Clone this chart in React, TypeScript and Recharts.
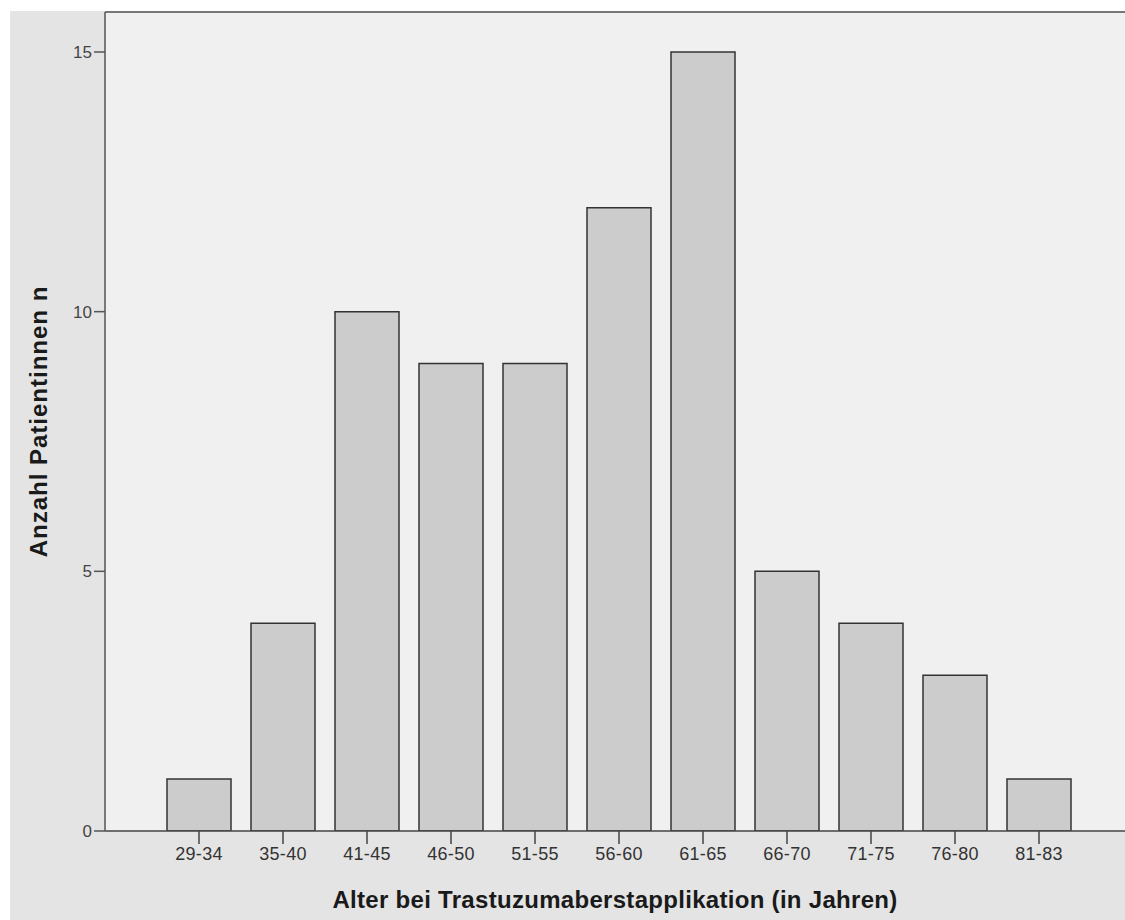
import React from "react";
import { BarChart, Bar, XAxis, YAxis, CartesianGrid, ReferenceLine, Label } from "recharts";

const ageGroups = ["29-34", "35-40", "41-45", "46-50", "51-55", "56-60", "61-65", "66-70", "71-75", "76-80", "81-83"];
const patientCounts = [1, 4, 10, 9, 9, 12, 15, 5, 4, 3, 1];
const yTicks = [0, 5, 10, 15];
const yMax = 15.77;

const data = ageGroups.map((g, i) => ({ group: g, count: patientCounts[i] }));

const FONT = "'Liberation Sans', Arial, sans-serif";

const App: React.FC = () => {
  return (
    <div style={{ position: "absolute", left: 0, top: 0, width: 1125, height: 920, background: "#ffffff", overflow: "hidden" }}>
      <div style={{ position: "absolute", left: 10, top: 11, right: 0, bottom: 0, background: "#e4e4e4" }} />
      <div style={{ position: "absolute", left: 0, top: 0 }}>
        <BarChart
          width={1125}
          height={920}
          data={data}
          margin={{ top: 12, right: 0, left: 0, bottom: 0 }}
          barCategoryGap={20}
        >
          <CartesianGrid horizontal={false} vertical={false} fill="#f0f0f0" />
          <XAxis
            dataKey="group"
            height={89}
            padding={{ left: 52, right: 44 }}
            stroke="#444"
            strokeWidth={1.5}
            tickSize={13}
            tickMargin={3}
            tick={{ fill: "#333", fontSize: 18, fontFamily: FONT, letterSpacing: 0.3 }}
          >
            <Label
              value="Alter bei Trastuzumaberstapplikation (in Jahren)"
              position="center"
              dy={24}
              style={{ fontSize: 24, fontWeight: "bold", fill: "#1a1a1a", fontFamily: FONT, letterSpacing: 0.3 }}
            />
          </XAxis>
          <YAxis
            type="number"
            domain={[0, yMax]}
            ticks={yTicks}
            width={105}
            allowDataOverflow
            stroke="#555"
            strokeWidth={1.5}
            tickSize={11}
            tick={{ fill: "#444", fontSize: 17, fontFamily: FONT }}
          >
            <Label
              value="Anzahl Patientinnen n"
              angle={-90}
              position="center"
              dx={-14}
              style={{ fontSize: 24, fontWeight: "bold", fill: "#1a1a1a", fontFamily: FONT, letterSpacing: 1, textAnchor: "middle" }}
            />
          </YAxis>
          <ReferenceLine y={yMax} stroke="#777" strokeWidth={2} />
          <Bar dataKey="count" barSize={64} fill="#cccccc" stroke="#333" strokeWidth={1.5} isAnimationActive={false} />
        </BarChart>
      </div>
    </div>
  );
};

export default App;
